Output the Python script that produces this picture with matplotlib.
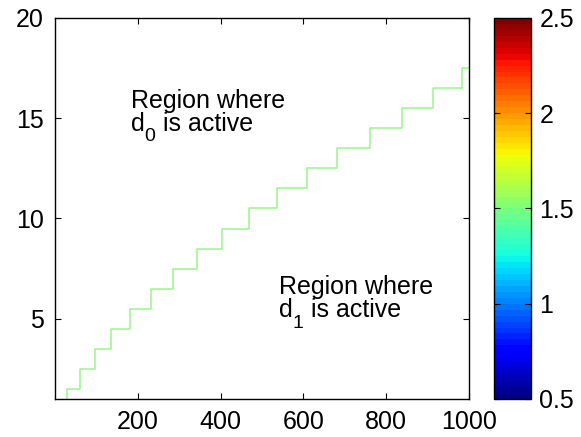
import matplotlib
matplotlib.use("Agg")
import matplotlib.pyplot as plt
from matplotlib import cm
from matplotlib.colors import Normalize
from matplotlib.transforms import offset_copy

plt.rcParams["font.family"] = ["Liberation Sans", "DejaVu Sans"]
plt.rcParams["font.size"] = 18

# staircase: switching points (x) and active levels
switch_x = [1, 30, 60, 96, 136, 182, 231, 284, 343, 404, 468, 536, 608,
            682, 760, 837, 914, 982, 1000]
levels = [0.5, 1.5, 2.5, 3.5, 4.5, 5.5, 6.5, 7.5, 8.5, 9.5, 10.5, 11.5,
          12.5, 13.5, 14.5, 15.5, 16.5, 17.5, 17.5]

x_ticks = [200, 400, 600, 800, 1000]
y_ticks = [5, 10, 15, 20]
cbar_ticks = [0.5, 1, 1.5, 2, 2.5]
cbar_labels = ["0.5", "1", "1.5", "2", "2.5"]

fig = plt.figure(figsize=(5.81, 4.37), dpi=100)
ax = fig.add_axes([0.0947, 0.087, 0.7125, 0.872])
ax.step(switch_x, levels, where="post", color="#99f58c", lw=1.1)

ax.set_xlim(0, 1000)
ax.set_ylim(1, 20)
ax.set_xticks(x_ticks)
ax.set_yticks(y_ticks)
ax.tick_params(direction="in", top=True, right=True, length=4, width=0.8, pad=8)
for s in ax.spines.values():
    s.set_linewidth(1.0)


def region_label(x, y_top, y_bot, sub):
    # two-line label with a MATLAB-like subscript
    ax.text(x, y_top, "Region where", va="baseline", ha="left")
    ax.text(x, y_bot, "d", va="baseline", ha="left")
    ax.text(x, y_bot, sub, va="baseline", ha="left", fontsize=14,
            transform=offset_copy(ax.transData, fig=fig, x=10.0, y=-7.5,
                                  units="points"))
    ax.text(x, y_bot, "is active", va="baseline", ha="left",
            transform=offset_copy(ax.transData, fig=fig, x=23.5, y=0,
                                  units="points"))


region_label(183, 15.49, 14.36, "0")
region_label(540, 6.21, 5.08, "1")

cax = fig.add_axes([0.851, 0.087, 0.0628, 0.872])
cmap = matplotlib.colormaps["jet"].resampled(64)
sm = cm.ScalarMappable(norm=Normalize(0.5, 2.5), cmap=cmap)
cb = fig.colorbar(sm, cax=cax)
cb.set_ticks(cbar_ticks)
cb.set_ticklabels(cbar_labels)
cax.tick_params(direction="in", left=True, right=True, length=4, width=0.8, pad=6)
cb.outline.set_linewidth(1.0)

fig.savefig("out.png", dpi=100)
